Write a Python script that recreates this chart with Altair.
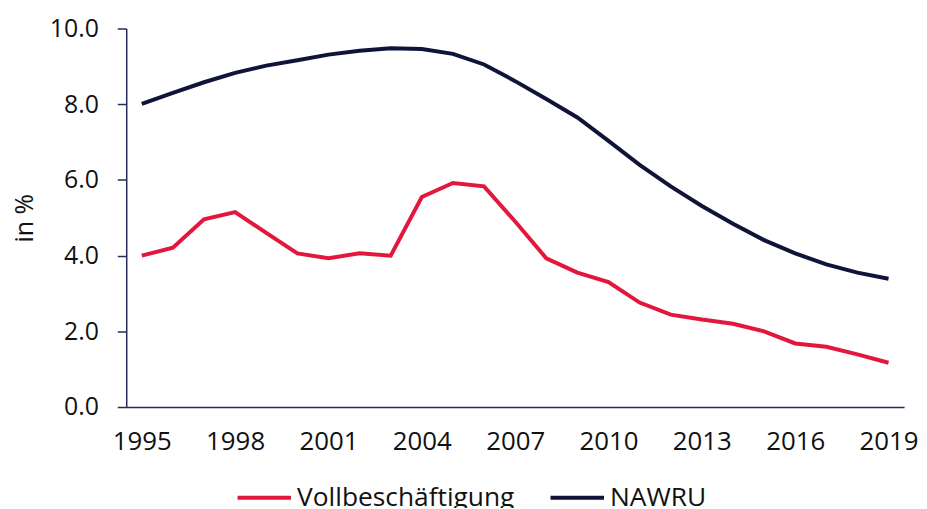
import altair as alt
import pandas as pd

years = list(range(1995, 2020))
vollbeschaeftigung = [4.00, 4.21, 4.96, 5.15, 4.60, 4.06, 3.93, 4.06, 4.00, 5.55,
                      5.92, 5.83, 4.90, 3.93, 3.55, 3.30, 2.76, 2.44, 2.31, 2.20,
                      2.00, 1.68, 1.59, 1.39, 1.17]
nawru = [8.01, 8.30, 8.58, 8.83, 9.02, 9.16, 9.31, 9.41, 9.48, 9.46,
         9.33, 9.05, 8.61, 8.14, 7.65, 7.03, 6.40, 5.83, 5.31, 4.84,
         4.41, 4.06, 3.77, 3.55, 3.39]
series_names = ["Vollbeschäftigung", "NAWRU"]
series_colors = ["#E3173B", "#0F1438"]
x_tick_years = [1995, 1998, 2001, 2004, 2007, 2010, 2013, 2016, 2019]
y_ticks = [0, 2, 4, 6, 8, 10]

rows = []
for name, vals in zip(series_names, [vollbeschaeftigung, nawru]):
    for y, v in zip(years, vals):
        rows.append({"Jahr": y, "Wert": v, "Serie": name})
df = pd.DataFrame(rows)

FONT = "Open Sans"

chart = alt.Chart(df).mark_line(strokeWidth=4).encode(
    x=alt.X("Jahr:O",
            scale=alt.Scale(type="point", padding=0.5),
            axis=alt.Axis(values=x_tick_years, labelAngle=0, ticks=False,
                          labelPadding=22, labelFontSize=26, title=None,
                          domainColor="#262A56", domainWidth=1.5, grid=False)),
    y=alt.Y("Wert:Q",
            scale=alt.Scale(domain=[0, 10]),
            axis=alt.Axis(values=y_ticks, format=".1f", title="in %",
                          tickSize=9, tickColor="#262A56", tickWidth=1.5,
                          domainColor="#262A56", domainWidth=1.5,
                          labelPadding=19, titlePadding=12, grid=False)),
    color=alt.Color("Serie:N",
                    scale=alt.Scale(domain=series_names, range=series_colors),
                    legend=alt.Legend(orient="none", direction="horizontal",
                                      legendX=110, legendY=443,
                                      title=None, symbolType="stroke",
                                      symbolSize=2900, symbolStrokeWidth=4,
                                      labelOffset=4, columnPadding=28,
                                      labelLimit=0)),
).properties(
    width=783, height=381,
    autosize=alt.AutoSizeParams(type="none"),
    padding={"left": 119, "top": 19, "right": 15, "bottom": 100},
).configure_view(stroke=None).configure_axis(
    labelFont=FONT, labelFontSize=25, labelColor="#111111",
    titleFont=FONT, titleFontSize=25, titleColor="#111111", titleFontWeight="normal",
).configure_legend(
    labelFont=FONT, labelFontSize=26.5, labelColor="#111111",
)

chart.save("out.html", embed_options={"renderer": "svg", "actions": False})
